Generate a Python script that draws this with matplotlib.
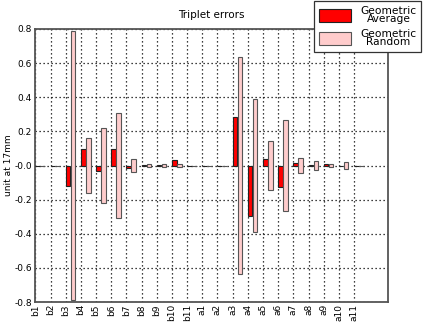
import numpy as np
import matplotlib
matplotlib.use('Agg')
import matplotlib.pyplot as plt

plt.rcParams['font.family'] = 'DejaVu Sans'
plt.rcParams['font.size'] = 6.5
plt.rcParams['axes.unicode_minus'] = False

labels = ['b1', 'b2', 'b3', 'b4', 'b5', 'b6', 'b7', 'b8', 'b9', 'b10', 'b11',
          'a1', 'a2', 'a3', 'a4', 'a5', 'a6', 'a7', 'a8', 'a9', 'a10', 'a11']
# mean error per triplet, and the spread of the random case (drawn +/-)
average = [0.0, 0.0, -0.12, 0.097, -0.033, 0.095, -0.017, 0.002, 0.002, 0.03, 0.0,
           0.0, 0.0, 0.286, -0.296, 0.036, -0.128, 0.012, 0.002, 0.01, 0.0, 0.0]
random = [0.0, 0.0, 0.79, 0.16, 0.22, 0.31, 0.04, 0.01, 0.01, 0.01, 0.0,
          0.0, 0.0, 0.634, 0.39, 0.143, 0.265, 0.043, 0.028, 0.006, 0.02, 0.0]

ind = np.arange(len(labels))
width = 0.3
rnd = np.array(random)

fig = plt.figure(figsize=(4.27, 3.22), dpi=100)
ax = fig.add_axes([0.083, 0.062, 0.826, 0.848])

ax.bar(ind, average, width, align='edge', color='#ff0000', edgecolor='#222222',
       linewidth=0.8, label='Geometric\nAverage', zorder=3)
ax.bar(ind + 0.33, 2 * rnd, width, bottom=-rnd, align='edge', color='#ffcccc',
       edgecolor='#555555', linewidth=0.8, label='Geometric\nRandom', zorder=3)

ax.set_xlim(0, 23.25)
ax.set_ylim(-0.8, 0.8)
ax.set_xticks(ind)
ax.set_xticklabels(labels, rotation=90)
ax.set_yticks(np.arange(-0.8, 0.81, 0.2))
ax.set_yticklabels(['%.1f' % v for v in np.arange(-0.8, 0.81, 0.2)])
ax.tick_params(axis='x', length=0, pad=1.5)
ax.tick_params(axis='y', length=0, pad=2.5)
ax.grid(True, color='black', linestyle=(0, (1, 2.2)), linewidth=0.9, zorder=0)
for s in ax.spines.values():
    s.set_color('#555555')
    s.set_linewidth(1.3)

ax.set_title('Triplet errors', fontsize=7.5, pad=8)
ax.set_ylabel('unit at 17mm')
ax.yaxis.set_label_coords(-0.065, 0.5)

leg = fig.legend(loc='upper right', bbox_to_anchor=(0.998, 1.012), fancybox=False,
                 edgecolor='#333333', framealpha=1, handlelength=3.0,
                 handleheight=1.5, borderpad=0.4, labelspacing=0.45,
                 handletextpad=0.9, fontsize=7.7)
leg.get_frame().set_linewidth(0.9)
for t in leg.get_texts():
    t.set_multialignment('center')
    t.set_linespacing(0.8)

fig.savefig('out.png', dpi=100)
